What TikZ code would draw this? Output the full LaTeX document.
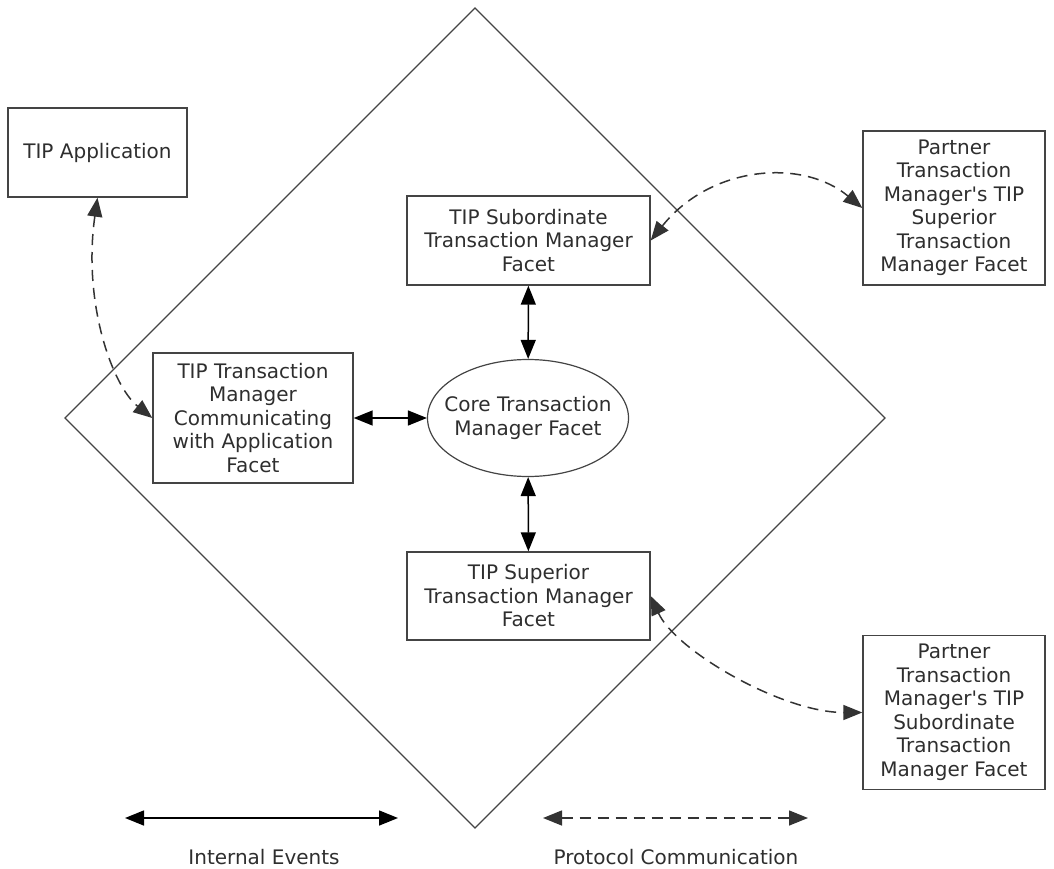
\documentclass[tikz,border=0pt]{standalone}
\usepackage{fontspec}
\setmainfont{DejaVu Sans}
\usepackage{tikz}
\usetikzlibrary{arrows.meta,shapes.geometric}
\definecolor{linegray}{HTML}{444444}
\definecolor{textgray}{HTML}{2E2E2E}

\begin{document}
\begin{tikzpicture}[
x=1pt,y=-1pt,
font=\fontsize{20}{23.5}\selectfont\color{textgray},
>={Triangle[length=19pt,width=15pt]},
box/.style={draw=linegray,line width=1.4pt,align=center,inner sep=0pt},
core/.style={draw=linegray,line width=1.2pt,ellipse,align=center,inner xsep=-30pt,inner ysep=-5pt,minimum width=201pt,minimum height=117pt},
internal/.style={<->,draw=black,line width=1.5pt},
protocol/.style={<->,draw=black!80,line width=1.5pt,dash pattern=on 11pt off 7pt}]
    \useasboundingbox (0,0) rectangle (1054,869);

    % Diamond
    \draw[linegray,line width=1.1pt] (475,8) -- (885,418) -- (475,828) -- (65,418) -- cycle;

    % Facets
    \node[box,minimum width=179pt,minimum height=89pt] (app) at (97.5,152.5) {TIP Application};
    \node[box,minimum width=243pt,minimum height=89pt] (sub) at (528.5,240.5)
        {TIP Subordinate\\Transaction Manager\\Facet};
    \node[box,minimum width=200pt,minimum height=130pt] (comm) at (253,418)
        {TIP Transaction\\Manager\\Communicating\\with Application\\Facet};
    \node[core] (core) at (528,418) {Core Transaction\\Manager Facet};
    \node[box,minimum width=243pt,minimum height=88pt] (sup) at (528.5,596)
        {TIP Superior\\Transaction Manager\\Facet};
    \node[box,minimum width=182pt,minimum height=154pt] (psup) at (954,208)
        {Partner\\Transaction\\Manager\textquotesingle s TIP\\Superior\\Transaction\\Manager Facet};
    \node[box,minimum width=182pt,minimum height=154pt] (psub) at (954,712.5)
        {Partner\\Transaction\\Manager\textquotesingle s TIP\\Subordinate\\Transaction\\Manager Facet};

    % Internal events
    \draw[internal] (comm) -- (core);
    \draw[internal] (sub) -- (core);
    \draw[internal] (core) -- (sup);

    % Protocol communication
    \draw[protocol] (app.south) .. controls +(-15,105) and +(-40,-32) .. (comm.west);
    \draw[protocol] (sub.east) .. controls +(60,-75) and +(-60,-50) .. (psup.west);
    \draw[protocol] (sup.east) .. controls +(25,55) and +(-80,0) .. (psub.west);

    % Legend
    \coordinate (ie1) at (125,818);
    \coordinate (ie2) at (398,818);
    \coordinate (pc1) at (543,818);
    \coordinate (pc2) at (808,818);
    \draw[internal] (ie1) -- (ie2);
    \draw[protocol] (pc1) -- (pc2);
    \node (ielabel) at (264,857) {Internal Events};
    \node (pclabel) at (676,857) {Protocol Communication};
\end{tikzpicture}
\end{document}
